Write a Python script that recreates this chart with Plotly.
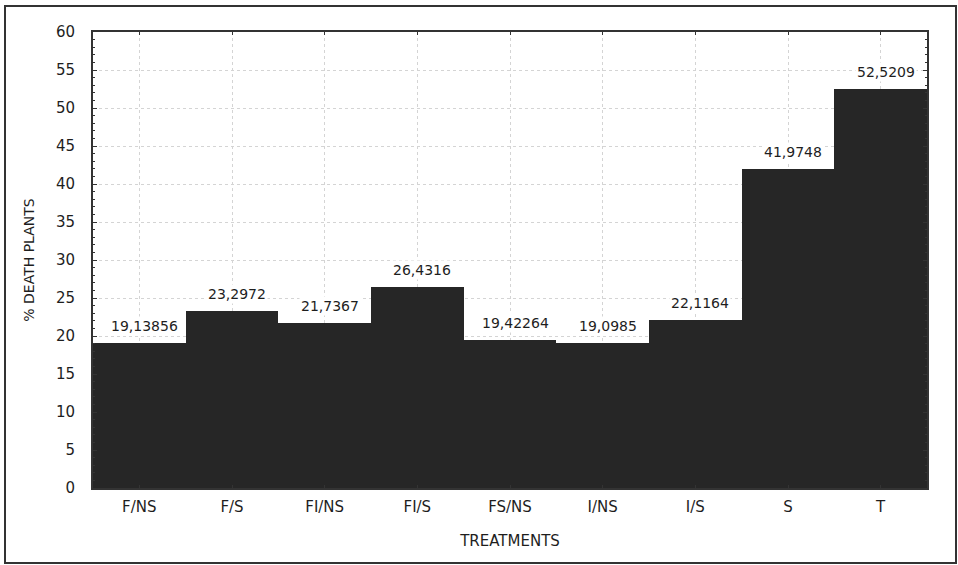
import plotly.graph_objects as go

# Mortality by treatment
treatments = ["F/NS", "F/S", "FI/NS", "FI/S", "FS/NS", "I/NS", "I/S", "S", "T"]
death_pct = [19.13856, 23.2972, 21.7367, 26.4316, 19.42264, 19.0985, 22.1164, 41.9748, 52.5209]
y_ticks = list(range(0, 61, 5))

labels = [str(v).replace(".", ",") for v in death_pct]

BAR = "#262626"
INK = "#1e1e1e"
FONT = "DejaVu Sans, Liberation Sans, sans-serif"

fig = go.Figure(
    go.Bar(
        x=treatments,
        y=death_pct,
        marker=dict(color=BAR, line=dict(width=0)),
        width=1.0,
        hoverinfo="x+y",
    )
)

# value labels on white boxes above each bar
for t, v, s in zip(treatments, death_pct, labels):
    fig.add_annotation(
        x=t, y=v, text=s, showarrow=False, yanchor="bottom", yshift=7, xshift=5,
        bgcolor="white", borderpad=1,
        font=dict(family=FONT, size=14, color=INK),
    )

# frame around the whole figure
W, H = 958, 565
L, R, T, B = 93, 31, 32, 77
pw, ph = W - L - R, H - T - B
fig.add_shape(
    type="rect", xref="paper", yref="paper",
    x0=(5 - L) / pw, x1=(956 - L) / pw,
    y0=((H - B) - 563) / ph, y1=((H - B) - 6) / ph,
    line=dict(color="#333", width=2), layer="below",
)

fig.update_layout(
    width=W, height=H,
    margin=dict(l=L, r=R, t=T, b=B, pad=0),
    paper_bgcolor="white", plot_bgcolor="white",
    bargap=0, showlegend=False,
    font=dict(family=FONT, size=15, color=INK),
    xaxis=dict(
        title=dict(text="TREATMENTS", font=dict(size=15), standoff=20),
        showline=True, linecolor="#333", linewidth=2, mirror="ticks",
        ticks="inside", ticklen=3, tickcolor="#333",
        showgrid=True, gridcolor="#d4d4d4", griddash="dot", gridwidth=1,
        tickfont=dict(size=15), ticklabelstandoff=4,
    ),
    yaxis=dict(
        title=dict(text="% DEATH PLANTS", font=dict(size=14), standoff=18),
        range=[0, 60], tickvals=y_ticks,
        showline=True, linecolor="#333", linewidth=2, mirror="ticks",
        ticks="inside", ticklen=4, tickcolor="#333",
        minor=dict(dtick=1, ticks="inside", ticklen=2, tickcolor="#333", showgrid=False),
        showgrid=True, gridcolor="#d4d4d4", griddash="dot", gridwidth=1,
        zeroline=False, tickfont=dict(size=15), ticklabelstandoff=13,
    ),
)

fig.write_html("out.html")
